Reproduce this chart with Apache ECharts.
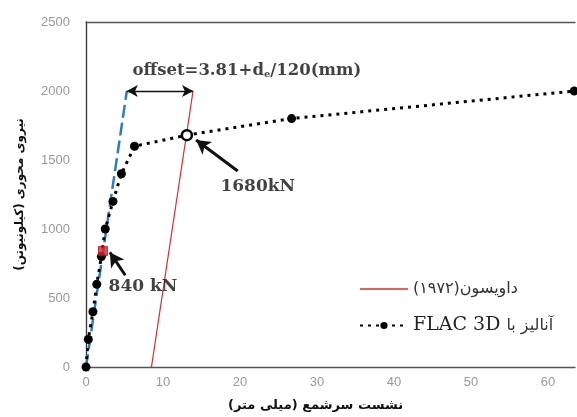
<!DOCTYPE html>
<html>
<head>
<meta charset="utf-8">
<script src="https://cdn.jsdelivr.net/npm/echarts@6/dist/echarts.min.js"></script>
<style>
  html, body { margin: 0; padding: 0; background: #fff; }
  #chart { width: 577px; height: 417px; }
</style>
</head>
<body>
<div id="chart"></div>
<script>
// Pile load test: FLAC 3D analysis and the Davisson (1972) offset criterion
const flacX = [0, 0.3, 0.9, 1.4, 2.0, 2.5, 3.5, 4.6, 6.3, 13.1, 26.7, 63.4];
const flacY = [0, 200, 400, 600, 800, 1000, 1200, 1400, 1600, 1680, 1800, 2000];
const elasticX = [0, 5.3];
const elasticY = [0, 2000];
const davissonX = [8.5, 13.9];
const davissonY = [0, 2000];
const failureLoad = [13.1, 1680];
const markedLoad = [2.2, 840];
const xTicks = [0, 10, 20, 30, 40, 50, 60];
const yTicks = [0, 500, 1000, 1500, 2000, 2500];

const RLE = '\u202B', PDF = '\u202C';
const rtl = s => RLE + s + PDF;

const zip = (xs, ys) => xs.map((x, i) => [x, ys[i]]);

const flacData = zip(flacX, flacY).map(p => {
  if (p[0] === failureLoad[0] && p[1] === failureLoad[1]) {
    return { value: p, symbolSize: 10, itemStyle: { color: '#fff', borderColor: '#000', borderWidth: 2.5 } };
  }
  return { value: p };
});

const serif = 'DejaVu Serif';
const persian = 'DejaVu Sans';
const chart = echarts.init(document.getElementById('chart'), null, { renderer: 'canvas' });

chart.setOption({
  animation: false,
  backgroundColor: '#fff',
  grid: { left: 86, top: 22, right: 2, bottom: 49, containLabel: false },
  legend: {
    orient: 'vertical',
    left: 354,
    top: 276,
    itemWidth: 48,
    itemHeight: 9,
    itemGap: 19,
    data: [
      { name: 'davisson', icon: 'path://M0,0 H48 V1.3 H0 Z', itemStyle: { color: '#e0282a' } },
      { name: 'flac' }
    ],
    formatter: name => name === 'davisson'
      ? '{p|' + rtl('داویسون(۱۹۷۲)') + '}'
      : '{l|FLAC 3D }{p|آنالیز با}',
    textStyle: {
      color: '#222',
      rich: {
        p: { fontFamily: persian, fontSize: 16, color: '#333', lineHeight: 20 },
        l: { fontFamily: serif, fontSize: 19, color: '#222', lineHeight: 20 }
      }
    }
  },
  xAxis: [{
    type: 'value',
    min: 0, max: 63.5, interval: 10,
    name: rtl('نشست سرشمع (میلی متر)'),
    nameLocation: 'middle',
    nameGap: 32,
    nameTextStyle: { fontSize: 13, fontWeight: 'bold', color: '#111', fontFamily: persian, padding: [0, 30, 0, 0] },
    axisLine: { show: true, lineStyle: { color: '#555', width: 1.3 } },
    axisTick: { show: false },
    splitLine: { show: false },
    axisLabel: {
      color: '#999', fontSize: 13, margin: 9, showMaxLabel: false,
      fontFamily: 'Liberation Sans',
      formatter: v => (xTicks.includes(v) ? String(v) : '')
    }
  }, {
    type: 'value', position: 'top', min: 0, max: 63.5,
    axisLine: { show: true, onZero: false, lineStyle: { color: '#555', width: 1.3 } },
    axisTick: { show: false }, axisLabel: { show: false }, splitLine: { show: false }
  }],
  yAxis: {
    type: 'value',
    min: 0, max: 2500, interval: 500,
    name: rtl('نیروی محوری (کیلونیوتن)'),
    nameLocation: 'middle',
    nameRotate: 90,
    nameGap: 60,
    nameTextStyle: { fontSize: 12, fontWeight: 'bold', color: '#111', fontFamily: persian, padding: [0, 0, 0, 0] },
    axisLine: { show: true, lineStyle: { color: '#333', width: 1.3 } },
    axisTick: { show: false },
    splitLine: { show: false },
    axisLabel: {
      color: '#999', fontSize: 13, margin: 16, fontFamily: 'Liberation Sans',
      formatter: v => (yTicks.includes(v) ? String(v) : '')
    }
  },
  series: [
    {
      name: 'elastic',
      type: 'line',
      data: zip(elasticX, elasticY),
      symbol: 'none',
      z: 2,
      lineStyle: { color: '#2e7cc0', width: 2.5, type: [13, 5] },
      markLine: {
        silent: true,
        symbol: ['arrow', 'arrow'],
        symbolSize: [9, 11],
        label: { show: false },
        lineStyle: { color: '#111', width: 1.3, type: 'solid' },
        data: [[{ coord: [elasticX[1], elasticY[1]] }, { coord: [davissonX[1], davissonY[1]] }]]
      }
    },
    {
      name: 'davisson',
      type: 'line',
      data: zip(davissonX, davissonY),
      symbol: 'none',
      z: 2,
      lineStyle: { color: '#e0282a', width: 1.2 },
      itemStyle: { color: '#e0282a' }
    },
    {
      name: 'flac',
      type: 'line',
      data: flacData,
      symbol: 'circle',
      symbolSize: 9,
      z: 3,
      itemStyle: { color: '#000' },
      lineStyle: { color: '#000', width: 3, type: [3, 5], cap: 'butt' },
      markLine: {
        silent: true,
        symbol: ['none', 'arrow'],
        symbolSize: [12, 14],
        label: { show: false },
        lineStyle: { color: '#111', width: 3, type: 'solid' },
        data: [
          [{ coord: [19.7, 1420] }, { coord: [14.3, 1645] }],
          [{ coord: [5.1, 665] }, { coord: [3.1, 830] }]
        ]
      }
    },
    {
      name: 'load840',
      type: 'scatter',
      data: [markedLoad],
      symbol: 'rect',
      symbolSize: 9,
      z: 4,
      itemStyle: { color: '#d8262a', borderColor: '#b01010', borderWidth: 1 }
    },
    {
      name: 'notes',
      type: 'scatter',
      symbolSize: 0,
      z: 5,
      silent: true,
      label: { show: true, position: 'inside', color: '#111', fontFamily: serif, fontWeight: 'bold', fontSize: 17 },
      data: [
        {
          value: [20.9, 2150],
          label: {
            formatter: '{b|offset=3.81+d}{s|e}{b|/120(mm)}',
            rich: {
              b: { fontFamily: serif, fontWeight: 'bold', fontSize: 16.5, color: '#111', lineHeight: 20 },
              s: { fontFamily: serif, fontWeight: 'bold', fontSize: 10, color: '#111', lineHeight: 20, padding: [9, 0, 0, 0] }
            }
          }
        },
        { value: [22.3, 1310], label: { formatter: failureLoad[1] + 'kN' } },
        { value: [7.4, 580], label: { formatter: markedLoad[1] + ' kN' } }
      ]
    }
  ]
});
</script>
</body>
</html>
